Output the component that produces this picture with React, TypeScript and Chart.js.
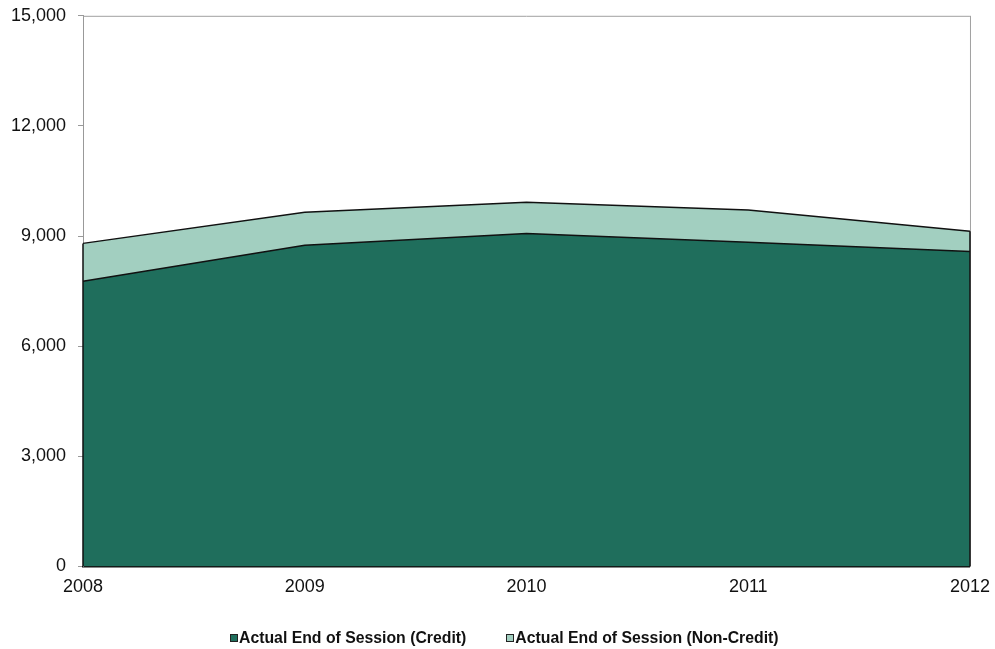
import React, { useEffect, useRef } from "react";
import { Chart, registerables } from "chart.js";

Chart.register(...registerables);

const years = ["2008", "2009", "2010", "2011", "2012"];
const creditValues = [7770, 8750, 9070, 8830, 8580];
const nonCreditValues = [1030, 900, 850, 880, 550];
const yTicks = [0, 3000, 6000, 9000, 12000, 15000];

const creditLabel = "Actual End of Session (Credit)";
const nonCreditLabel = "Actual End of Session (Non-Credit)";
const creditColor = "#1f6e5c";
const nonCreditColor = "#a2cfc0";

const FONT = "'Liberation Sans', Arial, sans-serif";

const frameAndEdges = {
  id: "frameAndEdges",
  afterDatasetsDraw(chart: any) {
    const { ctx, chartArea } = chart;
    ctx.save();
    ctx.strokeStyle = "#a0a0a0";
    ctx.lineWidth = 1;
    ctx.beginPath();
    ctx.moveTo(chartArea.left, chartArea.top + 0.5);
    ctx.lineTo(chartArea.right, chartArea.top + 0.5);
    ctx.moveTo(chartArea.right + 0.5, chartArea.top);
    ctx.lineTo(chartArea.right + 0.5, chartArea.bottom);
    ctx.stroke();
    const n = chart.data.datasets.length;
    const topMeta = chart.getDatasetMeta(n - 1);
    const base = chart.scales.y.getPixelForValue(0);
    ctx.strokeStyle = "#111";
    ctx.lineWidth = 1.5;
    const pts = topMeta.data;
    if (pts.length) {
      const first = pts[0];
      const last = pts[pts.length - 1];
      ctx.beginPath();
      ctx.moveTo(first.x, first.y);
      ctx.lineTo(first.x, base);
      ctx.moveTo(last.x, last.y);
      ctx.lineTo(last.x, base);
      ctx.stroke();
    }
    ctx.restore();
  },
};

export default function App() {
  const ref = useRef<HTMLCanvasElement | null>(null);

  useEffect(() => {
    document.body.style.margin = "0";
    const canvas = ref.current;
    if (!canvas) return;
    const chart = new Chart(canvas, {
      type: "line",
      data: {
        labels: years,
        datasets: [
          {
            label: creditLabel,
            data: creditValues,
            backgroundColor: creditColor,
            borderColor: "#111",
            borderWidth: 1.5,
            fill: "origin",
            pointRadius: 0,
            tension: 0,
          },
          {
            label: nonCreditLabel,
            data: nonCreditValues,
            backgroundColor: nonCreditColor,
            borderColor: "#111",
            borderWidth: 1.5,
            fill: "-1",
            pointRadius: 0,
            tension: 0,
          },
        ],
      },
      options: {
        animation: false,
        responsive: false,
        maintainAspectRatio: false,
        layout: { padding: { top: 8, right: 8, left: 0, bottom: 41 } },
        plugins: {
          tooltip: { enabled: false },
          legend: { display: false },
        },
        scales: {
          x: {
            offset: false,
            grid: { display: false, drawTicks: false },
            border: { display: true, color: "#111", width: 1.5 },
            ticks: {
              color: "#111",
              padding: 10,
              maxRotation: 0,
              font: { family: FONT, size: 18 },
            },
          },
          y: {
            stacked: true,
            min: 0,
            max: 15000,
            afterBuildTicks: (s: any) => {
              s.ticks = yTicks.map((v) => ({ value: v }));
            },
            afterFit: (s: any) => {
              s.width = 83;
            },
            grid: {
              drawOnChartArea: false,
              drawTicks: true,
              tickLength: 5,
              color: "#999",
            },
            border: { display: true, color: "#999", width: 1 },
            ticks: {
              color: "#111",
              padding: 12,
              font: { family: FONT, size: 18 },
              callback: (v: any) => Number(v).toLocaleString("en-US"),
            },
          },
        },
      },
      plugins: [frameAndEdges],
    });
    return () => chart.destroy();
  }, []);

  const legendItems = [
    { label: creditLabel, color: creditColor },
    { label: nonCreditLabel, color: nonCreditColor },
  ];

  return (
    <div style={{ position: "relative", width: 995, height: 649, background: "#fff", overflow: "hidden" }}>
      <canvas
        ref={ref}
        width={1000}
        height={656}
        style={{ display: "block", position: "absolute", left: 0, top: -7 }}
      />
      <div
        style={{
          position: "absolute",
          left: 230,
          top: 629,
          display: "flex",
          alignItems: "center",
          fontFamily: FONT,
          fontWeight: "bold",
          fontSize: 15.8,
          lineHeight: "18px",
          color: "#111",
          whiteSpace: "nowrap",
        }}
      >
        {legendItems.map((it, i) => (
          <div key={i} style={{ display: "flex", alignItems: "center", marginRight: i === 0 ? 40 : 0 }}>
            <span
              style={{
                display: "inline-block",
                width: 6,
                height: 6,
                background: it.color,
                border: "1px solid #222",
                marginRight: 1,
              }}
            />
            <span>{it.label}</span>
          </div>
        ))}
      </div>
    </div>
  );
}
